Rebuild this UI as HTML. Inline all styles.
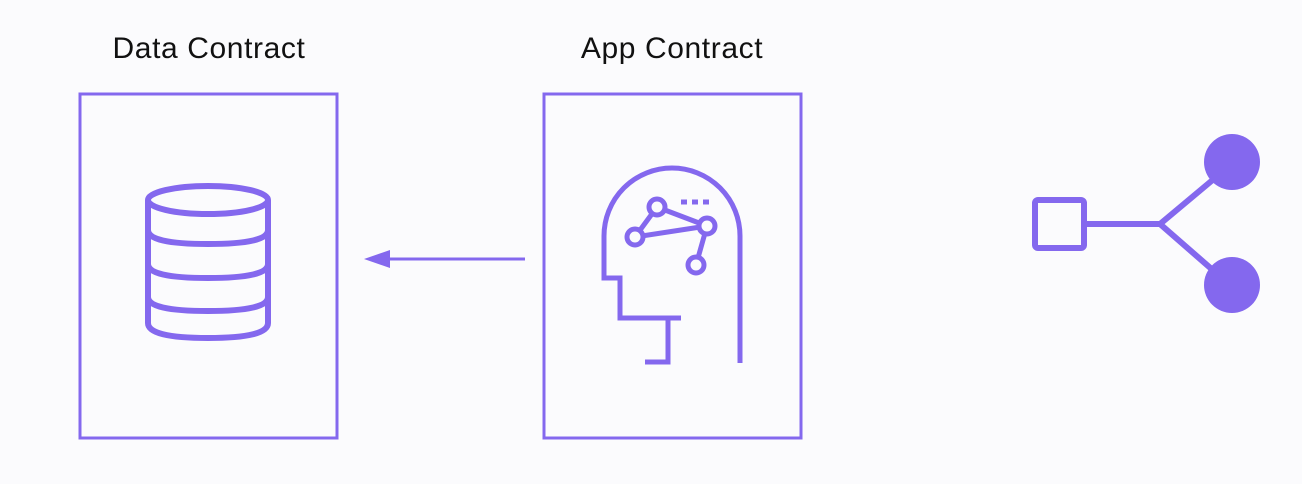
<!DOCTYPE html>
<html><head><meta charset="utf-8"><style>
body{margin:0;background:#fbfbfd;}
svg{display:block}
</style></head><body>
<svg width="1302" height="484" viewBox="0 0 1302 484" xmlns="http://www.w3.org/2000/svg">
<rect width="1302" height="484" fill="#fbfbfd"/>
<g font-family="Liberation Sans, sans-serif" font-size="30" letter-spacing="0.6" fill="#111" text-anchor="middle">
<text x="209" y="58">Data Contract</text>
<text x="672" y="58">App Contract</text>
</g>
<g fill="none" stroke="#8468ee" stroke-width="3">
<rect x="80" y="94" width="257" height="344"/>
<rect x="544" y="94" width="257" height="344"/>
</g>
<g fill="none" stroke="#8468ee" stroke-width="6">
<ellipse cx="208" cy="200" rx="60" ry="14"/>
<path d="M148 200 V323 Q148 338 208 338 Q268 338 268 323 V200"/>
<path d="M148 230 Q148 244 208 244 Q268 244 268 230"/>
<path d="M148 264 Q148 278 208 278 Q268 278 268 264"/>
<path d="M148 297 Q148 311 208 311 Q268 311 268 297"/>
</g>
<g fill="none" stroke="#8468ee" stroke-width="5">
<path d="M740 363 V236 A68 68 0 0 0 604 236 V278 H620 V318 H681"/>
<path d="M668 318 V362 H645"/>
<line x1="657" y1="207" x2="635" y2="237"/>
<line x1="657" y1="207" x2="707" y2="226"/>
<line x1="635" y1="237" x2="707" y2="226"/>
<line x1="707" y1="226" x2="696" y2="265"/>
<circle cx="657" cy="207" r="8" fill="#fbfbfd"/>
<circle cx="635" cy="237" r="8" fill="#fbfbfd"/>
<circle cx="707" cy="226" r="8" fill="#fbfbfd"/>
<circle cx="696" cy="265" r="8" fill="#fbfbfd"/>
<path d="M681 202 H713" stroke-dasharray="6 5"/>
</g>
<line x1="525" y1="259" x2="385" y2="259" stroke="#8468ee" stroke-width="3"/>
<polygon points="364,259 390,250 390,268" fill="#8468ee"/>
<g stroke="#8468ee" stroke-width="6" fill="none">
<rect x="1035" y="200" width="49" height="48" rx="3"/>
<path d="M1084 224 H1160 L1215 178 M1160 224 L1215 272"/>
</g>
<circle cx="1232" cy="162" r="28" fill="#8468ee"/>
<circle cx="1232" cy="285" r="28" fill="#8468ee"/>
</svg>
</body></html>
